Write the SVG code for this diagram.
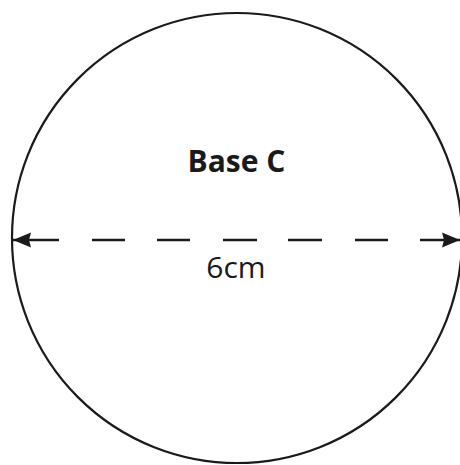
<svg xmlns="http://www.w3.org/2000/svg" width="460" height="465" viewBox="0 0 460 465">
  <style>
    .outline { fill: none; stroke: #1a1a1a; stroke-width: 2.2; }
    .dim { fill: none; stroke: #1a1a1a; stroke-width: 2.4; }
    .label { font-family: "Open Sans", "Noto Sans", "Liberation Sans", sans-serif; font-size: 30px; fill: #1a1a1a; text-anchor: middle; }
    .bold { font-weight: 700; }
  </style>
  <defs>
    <marker id="arrowEnd" markerUnits="userSpaceOnUse" markerWidth="20" markerHeight="16" refX="18" refY="8" orient="auto" overflow="visible">
      <path d="M0,0.5 L18,8 L0,15.5 L2,8 Z" fill="#1a1a1a"/>
    </marker>
    <marker id="arrowStart" markerUnits="userSpaceOnUse" markerWidth="20" markerHeight="16" refX="0" refY="8" orient="auto" overflow="visible">
      <path d="M18,0.5 L0,8 L18,15.5 L16,8 Z" fill="#1a1a1a"/>
    </marker>
  </defs>
  <g id="base-c">
    <circle class="outline" cx="237" cy="238" r="225"/>
    <text class="label bold" x="236.5" y="172">Base C</text>
  </g>
  <g id="connectors">
    <path class="dim" d="M13,240 H59 M92,240 H125 M157,240 H190 M223,240 H257 M288,240 H322 M355,240 H388 M420,240 H460" marker-start="url(#arrowStart)" marker-end="url(#arrowEnd)"/>
  </g>
  <g id="dimension-label">
    <text class="label" x="236" y="278">6cm</text>
  </g>
</svg>
